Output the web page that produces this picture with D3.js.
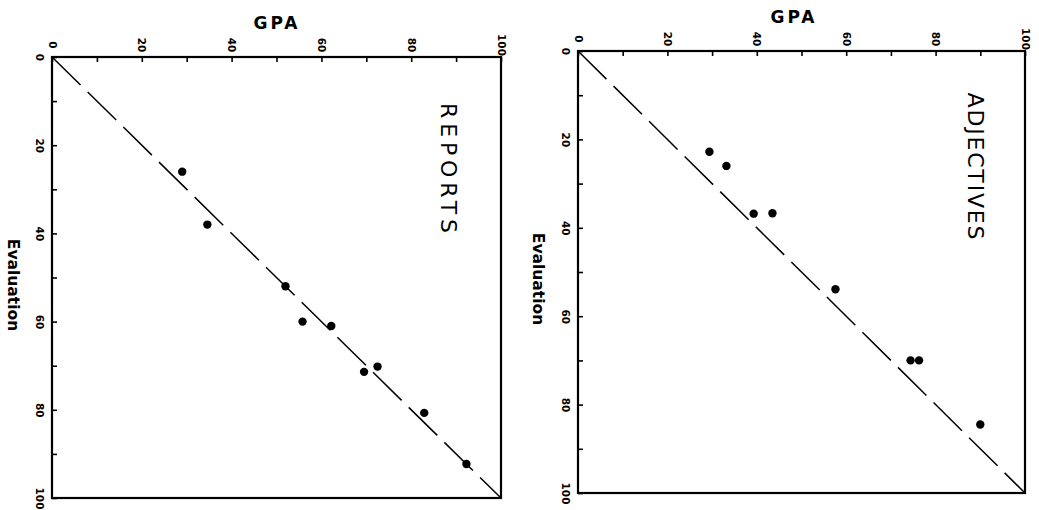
<!DOCTYPE html>
<html>
<head>
<meta charset="utf-8">
<script src="https://cdn.jsdelivr.net/npm/d3@7"></script>
<style>
  body { margin: 0; background: #fff; }
  svg { display: block; }
  .axis path { display: none; }
  .axis line { stroke: #000; stroke-width: 1.6; }
  .axis text { font-family: "DejaVu Sans", sans-serif; font-weight: bold; font-size: 10.5px; fill: #000; }
</style>
</head>
<body>
<script>
'use strict';

// GPA (horizontal) vs Evaluation (vertical)
var panelNames = ["REPORTS", "ADJECTIVES"];
var reportsGpa = [29, 34.6, 52, 55.8, 62.2, 69.5, 72.5, 82.9, 92.3];
var reportsEval = [26, 38, 52, 60, 61, 71.4, 70.2, 80.7, 92.3];
var adjectivesGpa = [29.4, 33.2, 39.3, 43.5, 57.6, 74.4, 76.3, 90];
var adjectivesEval = [22.8, 26, 36.8, 36.7, 53.9, 70, 70, 84.5];
var tickValues = [0, 10, 20, 30, 40, 50, 60, 70, 80, 90, 100];
var labelledTicks = [0, 20, 40, 60, 80, 100];

var width = 1039;
var height = 510;

var svg = d3.select("body").append("svg")
    .attr("width", width)
    .attr("height", height);

var panels = [
    { name: panelNames[0], gpa: reportsGpa, ev: reportsEval, left: 52, right: 501, top: 57, bottom: 498,
      evalX: 13, gpaX: 277, nameX: 448, nameY: 168, nameLen: 130 },
    { name: panelNames[1], gpa: adjectivesGpa, ev: adjectivesEval, left: 578, right: 1025, top: 51, bottom: 493,
      evalX: 538, gpaX: 794, nameX: 975, nameY: 166, nameLen: 147 }
];

panels.forEach(function (p) {
    var x = d3.scaleLinear().domain([0, 100]).range([p.left, p.right]);
    var y = d3.scaleLinear().domain([0, 100]).range([p.top, p.bottom]);
    var fmt = d => labelledTicks.indexOf(d) >= 0 ? d : "";

    var g = svg.append("g");

    // frame
    g.append("rect")
        .attr("x", p.left)
        .attr("y", p.top)
        .attr("width", p.right - p.left)
        .attr("height", p.bottom - p.top)
        .attr("fill", "none")
        .attr("stroke", "#000")
        .attr("stroke-width", 2.2);

    // GPA axis along the top
    var top = g.append("g")
        .attr("class", "axis")
        .attr("transform", "translate(0," + p.top + ")")
        .call(d3.axisTop(x).tickValues(tickValues).tickSize(-5).tickFormat(fmt));
    top.selectAll("text")
        .attr("y", null).attr("dy", null)
        .attr("transform", "translate(0,-12) rotate(90)")
        .attr("text-anchor", "middle")
        .attr("dominant-baseline", "central");

    // Evaluation axis along the left
    var leftAx = g.append("g")
        .attr("class", "axis")
        .attr("transform", "translate(" + p.left + ",0)")
        .call(d3.axisLeft(y).tickValues(tickValues).tickSize(-5).tickFormat(fmt));
    leftAx.selectAll("text")
        .attr("x", null).attr("dy", null)
        .attr("transform", "translate(-12,0) rotate(90)")
        .attr("text-anchor", "middle")
        .attr("dominant-baseline", "central");

    // identity line
    g.append("line")
        .attr("x1", x(0)).attr("y1", y(0))
        .attr("x2", x(100)).attr("y2", y(100))
        .attr("stroke", "#000")
        .attr("stroke-width", 1.5)
        .attr("stroke-dasharray", "40,10");

    // points
    g.selectAll("circle")
        .data(p.gpa)
        .enter().append("circle")
        .attr("cx", d => x(d))
        .attr("cy", (d, i) => y(p.ev[i]))
        .attr("r", 4.2)
        .attr("fill", "#000");

    // titles
    g.append("text")
        .attr("x", p.gpaX)
        .attr("y", p.top - 28)
        .attr("text-anchor", "middle")
        .attr("font-family", "DejaVu Sans, sans-serif")
        .attr("font-weight", "bold")
        .attr("font-size", "17px")
        .attr("letter-spacing", "3px")
        .text("GPA");

    g.append("text")
        .attr("transform", "translate(" + p.evalX + "," + (p.top + 228) + ") rotate(90)")
        .attr("text-anchor", "middle")
        .attr("dominant-baseline", "central")
        .attr("font-family", "DejaVu Sans, sans-serif")
        .attr("font-weight", "bold")
        .attr("font-size", "15.5px")
        .text("Evaluation");

    g.append("text")
        .attr("transform", "translate(" + p.nameX + "," + p.nameY + ") rotate(90)")
        .attr("text-anchor", "middle")
        .attr("dominant-baseline", "central")
        .attr("font-family", "DejaVu Sans, sans-serif")
        .attr("font-size", "22px")
        .attr("textLength", p.nameLen)
        .attr("lengthAdjust", "spacing")
        .text(p.name);
});
</script>
</body>
</html>
